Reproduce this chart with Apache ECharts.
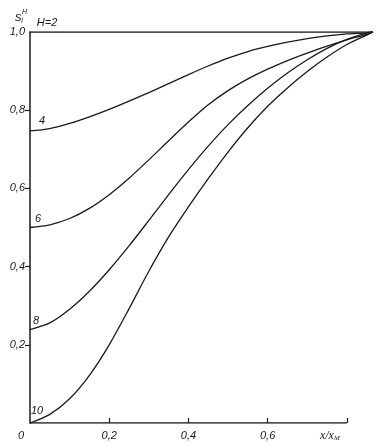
<!DOCTYPE html>
<html><head><meta charset="utf-8">
<script src="https://cdn.jsdelivr.net/npm/echarts@6/dist/echarts.min.js"></script>
<style>html,body{margin:0;padding:0;background:#fff}#c{width:391px;height:443px}</style>
</head><body><div id="c"></div>
<script>
// ---- data ----
const xTicks = [0, 0.2, 0.4, 0.6, 0.8];
const yTicks = [0.2, 0.4, 0.6, 0.8, 1.0];
const xEnd = 0.866;            // common end point of all curves
const curveLabels = ['H=2', '4', '6', '8', '10'];

// sample positions along x/x_M
const xs = [0, 0.05, 0.1, 0.15, 0.2, 0.25, 0.3, 0.35, 0.4, 0.45, 0.5, 0.55, 0.6, 0.65, 0.7, 0.75, 0.8, 0.85, 0.866];

const y2  = [1, 1, 1, 1, 1, 1, 1, 1, 1, 1, 1, 1, 1, 1, 1, 1, 1, 1, 1];
const y4  = [0.747, 0.753, 0.766, 0.783, 0.802, 0.823, 0.845, 0.868, 0.891, 0.913, 0.933, 0.950, 0.963, 0.974, 0.983, 0.990, 0.995, 0.998, 1.0];
const y6  = [0.5, 0.507, 0.523, 0.549, 0.584, 0.626, 0.673, 0.722, 0.770, 0.814, 0.850, 0.880, 0.905, 0.927, 0.946, 0.964, 0.980, 0.994, 1.0];
const y8  = [0.239, 0.256, 0.291, 0.337, 0.392, 0.453, 0.518, 0.584, 0.648, 0.708, 0.763, 0.812, 0.856, 0.895, 0.929, 0.958, 0.981, 0.997, 1.0];
const y10 = [0, 0.022, 0.062, 0.122, 0.200, 0.292, 0.388, 0.476, 0.553, 0.625, 0.693, 0.755, 0.810, 0.857, 0.899, 0.936, 0.968, 0.992, 1.0];

// ---- styles / layout ----
const INK = '#1a1a1a';
const FONT = 'Liberation Sans';
const labelOffsets = [[17, -9], [12, -10], [8, -9], [6, -9], [7, -12]];
const curveY = [y2, y4, y6, y8, y10];

function fmt(v){ return (Math.round(v*10)/10).toFixed(1).replace('.', ','); }

const series = curveY.map((ys, k) => ({
  type: 'line',
  smooth: 0.3,
  symbol: 'circle',
  symbolSize: (val, p) => p.dataIndex === 0 ? 1 : 0,
  itemStyle: { color: INK },
  lineStyle: { color: INK, width: 1.3 },
  silent: true,
  data: xs.map((x, i) => i === 0 ? {
      value: [x, ys[i]],
      label: { show: true, formatter: curveLabels[k], position: 'inside',
               offset: labelOffsets[k], color: INK, fontStyle: 'italic',
               fontFamily: FONT, fontSize: 11 }
    } : [x, ys[i]])
}));

// bottom axis line from 0 to last tick
series.push({
  type: 'line', symbol: 'none', silent: true,
  lineStyle: { color: INK, width: 1.5 },
  data: [[xTicks[0], 0], [xTicks[xTicks.length - 1], 0]]
});

const chart = echarts.init(document.getElementById('c'), null, { renderer: 'canvas' });
chart.setOption({
  animation: false,
  backgroundColor: '#fff',
  grid: { left: 30, right: 391 - 373, top: 32, bottom: 20, containLabel: false },
  xAxis: {
    type: 'value', min: 0, max: xEnd,
    axisLine: { show: false },
    splitLine: { show: false },
    axisTick: { show: true, inside: true, length: 5, customValues: xTicks.slice(1),
                lineStyle: { color: INK, width: 1.2 } },
    axisLabel: {
      customValues: xTicks, margin: 7, color: INK,
      formatter: v => v === 0 ? '{o|0}' : (v > 0.79 ? '{nm|x/x}{sb|M}' : '{t|' + fmt(v) + '}'),
      rich: {
        t:  { fontStyle: 'italic', fontFamily: FONT, fontSize: 11, color: INK },
        o:  { fontStyle: 'italic', fontFamily: FONT, fontSize: 11, color: INK, padding: [0, 18, 0, 0] },
        nm: { fontStyle: 'italic', fontFamily: 'Liberation Serif', fontSize: 12, color: INK },
        sb: { fontStyle: 'italic', fontFamily: 'Liberation Serif', fontSize: 7, color: INK,
              padding: [5, 34, 0, 0] }
      }
    }
  },
  yAxis: {
    type: 'value', min: 0, max: 1, interval: 0.2,
    axisLine: { show: true, lineStyle: { color: INK, width: 1.5 } },
    splitLine: { show: false },
    axisTick: { show: true, inside: false, length: 5, customValues: yTicks.slice(0, 4),
                lineStyle: { color: INK, width: 1.2 } },
    axisLabel: {
      customValues: yTicks, margin: 5, color: INK,
      fontStyle: 'italic', fontFamily: FONT, fontSize: 11,
      formatter: v => fmt(v)
    }
  },
  graphic: [
    { type: 'text', left: 15, top: 11, style: { text: 's', font: 'italic 13px Liberation Sans', fill: INK } },
    { type: 'text', left: 22, top: 9,  style: { text: 'H', font: 'italic 7px Liberation Sans', fill: INK } },
    { type: 'text', left: 21, top: 18, style: { text: 'I', font: 'italic 7px Liberation Sans', fill: INK } }
  ],
  series: series
});
</script>
</body></html>
